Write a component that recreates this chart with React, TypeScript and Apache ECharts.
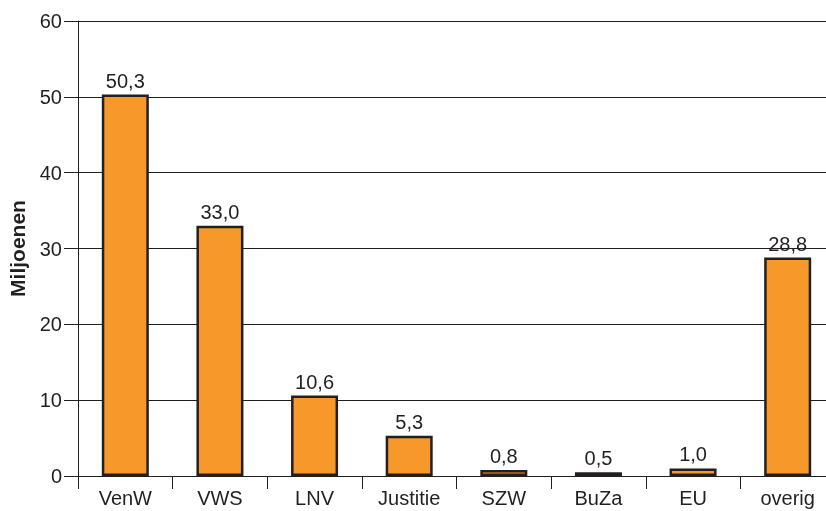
import React, { useEffect, useRef } from "react";
import * as echarts from "echarts";

const categories = ["VenW", "VWS", "LNV", "Justitie", "SZW", "BuZa", "EU", "overig"];
const values = [50.3, 33.0, 10.6, 5.3, 0.8, 0.5, 1.0, 28.8];
const yTicks = { min: 0, max: 60, interval: 10 };
const yName = "Miljoenen";

export default function App() {
  const ref = useRef<HTMLDivElement>(null);
  useEffect(() => {
    if (!ref.current) return;
    const chart = echarts.init(ref.current, undefined, { renderer: "svg" });
    const font = "'Liberation Sans', Arial, Helvetica, sans-serif";
    chart.setOption({
      animation: false,
      grid: { left: 78, top: 21, width: 757, height: 455, outerBoundsMode: "none", containLabel: false },
      xAxis: {
        type: "category",
        data: categories,
        boundaryGap: true,
        axisLine: { lineStyle: { color: "#231F20", width: 1 } },
        axisTick: { show: true, length: 13, lineStyle: { color: "#231F20" } },
        axisLabel: { color: "#231F20", fontSize: 20, fontFamily: font, margin: 12, lineHeight: 20, interval: 0 },
      },
      yAxis: {
        type: "value",
        min: yTicks.min,
        max: yTicks.max,
        interval: yTicks.interval,
        name: yName,
        nameLocation: "middle",
        nameGap: 50,
        nameTextStyle: { fontWeight: "bold", fontSize: 21, color: "#231F20", fontFamily: font },
        axisLine: { show: true, lineStyle: { color: "#231F20", width: 1 } },
        axisTick: { show: true, length: 14, lineStyle: { color: "#231F20" } },
        axisLabel: { color: "#231F20", fontSize: 20, fontFamily: font, margin: 16 },
        splitLine: { show: true, lineStyle: { color: "#231F20", width: 1 } },
      },
      series: [
        {
          type: "bar",
          data: values,
          barWidth: 47,
          itemStyle: { color: "#F6992A", borderColor: "#231F20", borderWidth: 2.5 },
          label: {
            show: true,
            position: "top",
            distance: 4,
            color: "#231F20",
            fontSize: 20,
            fontFamily: font,
            formatter: (p: any) => p.value.toFixed(1).replace(".", ","),
          },
        },
      ],
    });
    return () => chart.dispose();
  }, []);
  return (
    <div style={{ position: "fixed", left: 0, top: 0, width: 826, height: 511, overflow: "hidden" }}>
      <div ref={ref} style={{ width: 840, height: 511 }} />
    </div>
  );
}
